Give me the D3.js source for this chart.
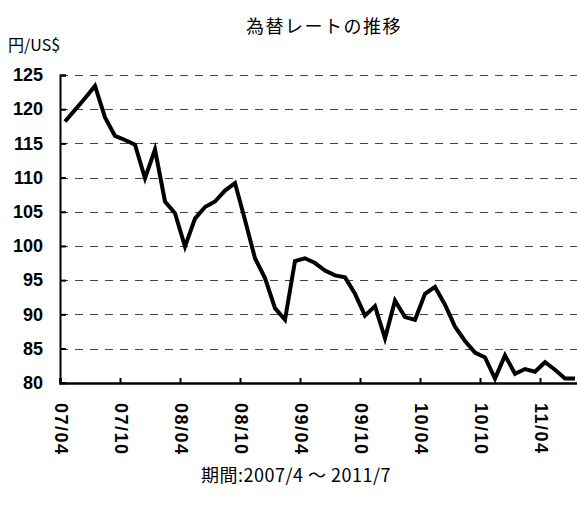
<!DOCTYPE html>
<html>
<head>
<meta charset="utf-8">
<script src="https://cdn.jsdelivr.net/npm/d3@7"></script>
<style>
body { margin: 0; background: #fff; }
</style>
</head>
<body>
<svg id="chart" width="577" height="506"></svg>
<script>
// monthly rate, 2007/04 - 2011/07 (yen per US$)
var values = [118.2,119.9,121.6,123.4,118.8,116.1,115.5,114.8,109.9,114.1,
              106.5,104.8,99.9,104.0,105.7,106.5,108.1,109.2,103.8,98.2,
              95.3,90.9,89.2,97.8,98.2,97.5,96.4,95.7,95.4,93.0,
              89.8,91.2,86.5,92.0,89.6,89.2,93.0,94.0,91.4,88.2,
              86.1,84.4,83.7,80.6,84.0,81.3,82.0,81.6,83.0,81.9,
              80.6,80.6];
var tickLabels = ["07/04","07/10","08/04","08/10","09/04","09/10","10/04","10/10","11/04"];
var yTicks = [80,85,90,95,100,105,110,115,120,125];

var svg = d3.select("#chart");
var numFont = "'Liberation Sans', Arial, sans-serif";
var jpFont = "'Noto Sans CJK JP', sans-serif";

var x = d3.scaleLinear().domain([0, 52]).range([60, 580]);
var y = d3.scaleLinear().domain([80, 125]).range([382.7, 75]);

// gridlines
svg.append("g")
  .selectAll("line")
  .data(yTicks.slice(1))
  .enter()
  .append("line")
  .attr("x1", 60).attr("x2", 580)
  .attr("y1", function(d) { return Math.round(y(d)) + 0.5; })
  .attr("y2", function(d) { return Math.round(y(d)) + 0.5; })
  .style("stroke", "#444")
  .style("stroke-width", 1)
  .style("stroke-dasharray", "8,7");

// y axis
var yAxis = svg.append("g")
  .attr("transform", "translate(60,0)")
  .call(d3.axisLeft(y).tickValues(yTicks).tickSize(-6).tickPadding(17));
yAxis.select(".domain").style("stroke", "#000").style("stroke-width", 2);
yAxis.selectAll(".tick line").style("stroke", "#000").style("stroke-width", 2);
yAxis.selectAll("text")
  .style("font-family", numFont)
  .style("font-weight", "bold")
  .style("font-size", "18px")
  .style("fill", "#000");

// x axis
var xAxis = svg.append("g")
  .attr("transform", "translate(0,383)")
  .call(d3.axisBottom(x)
    .tickValues(d3.range(0, 52, 6))
    .tickSize(-5)
    .tickFormat(function(d) { return tickLabels[d / 6]; }));
xAxis.select(".domain").style("stroke", "#000").style("stroke-width", 2.5);
xAxis.selectAll(".tick line").style("stroke", "#000").style("stroke-width", 2);
xAxis.selectAll("text")
  .attr("transform", "translate(1,20) rotate(90)")
  .attr("x", 0).attr("y", 0).attr("dy", "0.35em")
  .style("text-anchor", "start")
  .style("font-family", numFont)
  .style("font-weight", "bold")
  .style("font-size", "18px")
  .style("letter-spacing", "1.5px")
  .style("fill", "#000");

// rate line
var line = d3.line()
  .x(function(d, i) { return x(i + 0.5); })
  .y(function(d) { return y(d); });

svg.append("path")
  .datum(values)
  .attr("d", line)
  .style("fill", "none")
  .style("stroke", "#000")
  .style("stroke-width", 4)
  .style("stroke-linejoin", "miter");

// titles
svg.append("text")
  .text("為替レートの推移")
  .attr("x", 324).attr("y", 33)
  .style("text-anchor", "middle")
  .style("font-family", jpFont)
  .style("font-size", "18px")
  .style("letter-spacing", "1.5px");

svg.append("text")
  .text("円/US$")
  .attr("x", 8).attr("y", 51)
  .style("font-family", jpFont)
  .style("font-size", "16px");

svg.append("text")
  .text("期間:2007/4 〜 2011/7")
  .attr("x", 296).attr("y", 482)
  .style("text-anchor", "middle")
  .style("font-family", jpFont)
  .style("font-size", "18px")
  .style("letter-spacing", "0.5px");
</script>
</body>
</html>
